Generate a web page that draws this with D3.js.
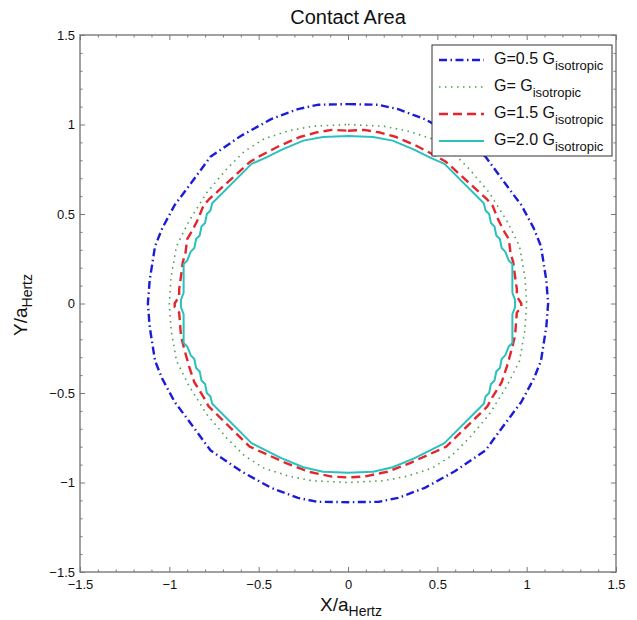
<!DOCTYPE html>
<html lang="en">
<head>
<meta charset="UTF-8">
<title>Contact Area</title>
<script src="https://d3js.org/d3.v7.min.js"></script>
<style>
  body { margin: 0; background: #fff; }
  text { font-family: "Liberation Sans", Arial, Helvetica, sans-serif; fill: #111; }
</style>
</head>
<body>
<svg id="chart" width="637" height="620"></svg>
<script>

const majorTicks = [-1.5, -1, -0.5, 0, 0.5, 1, 1.5];
const minorTicks = [-1.4, -1.3, -1.2, -1.1, -0.9, -0.8, -0.7, -0.6, -0.4, -0.3, -0.2, -0.1,
                    0.1, 0.2, 0.3, 0.4, 0.6, 0.7, 0.8, 0.9, 1.1, 1.2, 1.3, 1.4];

const seriesNames = ["G=0.5 G", "G= G", "G=1.5 G", "G=2.0 G"];
const seriesSub = "isotropic";

// contour points (X/aHertz, Y/aHertz), clockwise from the top
const contourG05 = [
    [0, 1.114], [0.17, 1.11], [0.28, 1.086], [0.43, 1.03], [0.60, 0.936], [0.77, 0.82], [0.88, 0.67],
    [0.97, 0.55], [1.04, 0.42], [1.08, 0.32], [1.11, 0.13], [1.12, 0],
    [1.11, -0.13], [1.08, -0.32], [1.04, -0.42], [0.97, -0.55], [0.88, -0.67], [0.77, -0.82],
    [0.60, -0.936], [0.43, -1.03], [0.28, -1.086], [0.17, -1.108], [0, -1.11],
    [-0.17, -1.108], [-0.28, -1.086], [-0.43, -1.03], [-0.60, -0.936], [-0.77, -0.82], [-0.88, -0.67],
    [-0.97, -0.55], [-1.04, -0.42], [-1.08, -0.32], [-1.11, -0.13], [-1.12, 0],
    [-1.11, 0.13], [-1.08, 0.32], [-1.04, 0.42], [-0.97, 0.55], [-0.88, 0.67], [-0.77, 0.82],
    [-0.60, 0.936], [-0.43, 1.03], [-0.28, 1.086], [-0.17, 1.11]
];

const contourG10 = [
    [0, 1.0], [0.2, 0.99], [0.33, 0.965], [0.47, 0.92], [0.58, 0.85], [0.68, 0.75], [0.79, 0.62],
    [0.89, 0.46], [0.96, 0.32], [0.99, 0.15], [1.0, 0],
    [0.99, -0.15], [0.96, -0.32], [0.89, -0.46], [0.79, -0.62], [0.68, -0.75], [0.58, -0.85],
    [0.47, -0.92], [0.33, -0.965], [0.2, -0.99], [0, -1.0],
    [-0.2, -0.99], [-0.33, -0.965], [-0.47, -0.92], [-0.58, -0.85], [-0.68, -0.75], [-0.79, -0.62],
    [-0.89, -0.46], [-0.96, -0.32], [-0.99, -0.15], [-1.0, 0],
    [-0.99, 0.15], [-0.96, 0.32], [-0.89, 0.46], [-0.79, 0.62], [-0.68, 0.75], [-0.58, 0.85],
    [-0.47, 0.92], [-0.33, 0.965], [-0.2, 0.99]
];

const contourG15 = [
    [0, 0.965], [0.09, 0.97], [0.18, 0.955], [0.27, 0.93], [0.385, 0.88], [0.50, 0.82], [0.55, 0.79],
    [0.78, 0.58], [0.81, 0.545], [0.84, 0.47], [0.87, 0.41], [0.90, 0.36], [0.91, 0.28], [0.925, 0.23],
    [0.935, 0.15], [0.945, 0.08], [0.945, 0.04], [0.97, 0],
    [0.97, -0.02], [0.945, -0.05], [0.935, -0.18], [0.915, -0.26], [0.89, -0.35], [0.86, -0.44],
    [0.81, -0.52], [0.78, -0.575], [0.55, -0.80], [0.35, -0.89], [0.22, -0.94], [0.09, -0.967], [0, -0.972],
    [-0.09, -0.967], [-0.22, -0.94], [-0.35, -0.89], [-0.55, -0.80], [-0.78, -0.575], [-0.81, -0.52],
    [-0.86, -0.44], [-0.89, -0.35], [-0.915, -0.26], [-0.935, -0.18], [-0.945, -0.05], [-0.97, -0.02],
    [-0.97, 0], [-0.945, 0.04], [-0.945, 0.08], [-0.935, 0.15], [-0.925, 0.23], [-0.91, 0.28],
    [-0.90, 0.36], [-0.87, 0.41], [-0.84, 0.47], [-0.81, 0.545], [-0.78, 0.58], [-0.55, 0.79],
    [-0.50, 0.82], [-0.385, 0.88], [-0.27, 0.93], [-0.18, 0.955], [-0.09, 0.97]
];

const contourG20 = [
    [0, 0.936], [0.14, 0.93], [0.25, 0.91], [0.37, 0.86], [0.46, 0.815], [0.54, 0.78], [0.76, 0.56],
    [0.77, 0.52], [0.79, 0.50], [0.80, 0.45], [0.82, 0.43], [0.83, 0.38], [0.85, 0.36], [0.86, 0.31],
    [0.88, 0.29], [0.90, 0.24], [0.92, 0.22], [0.92, 0.06], [0.935, 0.02],
    [0.935, -0.02], [0.92, -0.06], [0.92, -0.22], [0.90, -0.24], [0.88, -0.29], [0.86, -0.31],
    [0.85, -0.36], [0.83, -0.38], [0.82, -0.43], [0.80, -0.45], [0.79, -0.50], [0.77, -0.52],
    [0.76, -0.56], [0.54, -0.78], [0.46, -0.82], [0.37, -0.865], [0.25, -0.915], [0.14, -0.94], [0, -0.945],
    [-0.14, -0.94], [-0.25, -0.915], [-0.37, -0.865], [-0.46, -0.82], [-0.54, -0.78], [-0.76, -0.56],
    [-0.77, -0.52], [-0.79, -0.50], [-0.80, -0.45], [-0.82, -0.43], [-0.83, -0.38], [-0.85, -0.36],
    [-0.86, -0.31], [-0.88, -0.29], [-0.90, -0.24], [-0.92, -0.22], [-0.92, -0.06], [-0.935, -0.02],
    [-0.935, 0.02], [-0.92, 0.06], [-0.92, 0.22], [-0.90, 0.24], [-0.88, 0.29], [-0.86, 0.31],
    [-0.85, 0.36], [-0.83, 0.38], [-0.82, 0.43], [-0.80, 0.45], [-0.79, 0.50], [-0.77, 0.52],
    [-0.76, 0.56], [-0.54, 0.78], [-0.46, 0.815], [-0.37, 0.86], [-0.25, 0.91], [-0.14, 0.93]
];

const contours = [contourG05, contourG10, contourG15, contourG20];

const styles = [
    {color: "#1c1cd8", width: 2.4, dash: "8,3.5,1.5,3.5"},
    {color: "#4c9e4c", width: 1.6, dash: "1.5,4.5"},
    {color: "#e3262b", width: 2.4, dash: "9,5"},
    {color: "#2cc0bd", width: 2,   dash: null}
];

window.onload = function () {
    const svg = d3.select("#chart");
    const left = 80, right = 616, top = 35, bottom = 572;

    const x = d3.scaleLinear().domain([-1.5, 1.5]).range([left, right]);
    const y = d3.scaleLinear().domain([-1.5, 1.5]).range([bottom, top]);
    const fmt = d3.format("");

    // contours
    const line = d3.line()
        .x(d => x(d[0]))
        .y(d => y(d[1]))
        .curve(d3.curveLinearClosed);

    svg.append("g").selectAll("path")
        .data(contours)
        .enter()
        .append("path")
        .attr("d", line)
        .attr("fill", "none")
        .attr("stroke", (d, i) => styles[i].color)
        .attr("stroke-width", (d, i) => styles[i].width)
        .attr("stroke-dasharray", (d, i) => styles[i].dash)
        .attr("stroke-linejoin", "round");

    // axes: ticks on all four sides, pointing inward
    const axisColor = "#7a7a7a";
    const axes = [
        {gen: d3.axisBottom(x), t: `translate(0,${bottom})`, labels: true, pad: 8},
        {gen: d3.axisTop(x),    t: `translate(0,${top})`,    labels: false},
        {gen: d3.axisLeft(y),   t: `translate(${left},0)`,   labels: true, pad: 5},
        {gen: d3.axisRight(y),  t: `translate(${right},0)`,  labels: false}
    ];
    axes.forEach(a => {
        const major = svg.append("g")
            .attr("transform", a.t)
            .call(a.gen.tickValues(majorTicks).tickSizeInner(-5).tickSizeOuter(0)
                .tickPadding(a.pad || 3)
                .tickFormat(a.labels ? fmt : ""));
        major.select(".domain").remove();
        major.selectAll("line").attr("stroke", axisColor);
        major.selectAll("text").attr("font-size", 13).attr("fill", "#1a1a1a")
            .attr("font-family", "Liberation Sans, Arial, sans-serif");

        const minor = svg.append("g")
            .attr("transform", a.t)
            .call(a.gen.tickValues(minorTicks).tickSizeInner(-2.5).tickSizeOuter(0).tickFormat(""));
        minor.select(".domain").remove();
        minor.selectAll("line").attr("stroke", axisColor);
    });

    svg.append("rect")
        .attr("x", left).attr("y", top)
        .attr("width", right - left).attr("height", bottom - top)
        .attr("fill", "none")
        .attr("stroke", axisColor)
        .attr("stroke-width", 1.4);

    // title
    svg.append("text")
        .attr("x", (left + right) / 2)
        .attr("y", 24)
        .attr("text-anchor", "middle")
        .attr("font-size", 20)
        .text("Contact Area");

    // x label
    const xl = svg.append("text")
        .attr("x", 351)
        .attr("y", 611)
        .attr("text-anchor", "middle")
        .attr("font-size", 19);
    xl.append("tspan").text("X/a");
    xl.append("tspan").attr("dy", 5).attr("font-size", 14).text("Hertz");

    // y label
    const yl = svg.append("text")
        .attr("transform", "translate(27,305) rotate(-90)")
        .attr("text-anchor", "middle")
        .attr("font-size", 19);
    yl.append("tspan").text("Y/a");
    yl.append("tspan").attr("dy", 5).attr("font-size", 14).text("Hertz");

    // legend
    const lg = svg.append("g");
    lg.append("rect")
        .attr("x", 432).attr("y", 45)
        .attr("width", 180).attr("height", 111)
        .attr("fill", "#fff")
        .attr("stroke", "#333")
        .attr("stroke-width", 1);

    const items = lg.selectAll("g.item")
        .data(seriesNames)
        .enter()
        .append("g")
        .attr("class", "item")
        .attr("transform", (d, i) => `translate(0,${60 + i * 27})`);

    items.append("line")
        .attr("x1", 439).attr("x2", 484)
        .attr("y1", 0).attr("y2", 0)
        .attr("stroke", (d, i) => styles[i].color)
        .attr("stroke-width", (d, i) => styles[i].width)
        .attr("stroke-dasharray", (d, i) => styles[i].dash);

    const lt = items.append("text")
        .attr("x", 494)
        .attr("y", 3.5)
        .attr("font-size", 16);
    lt.append("tspan").text(d => d);
    lt.append("tspan").attr("dy", 6).attr("font-size", 13).text(seriesSub);
};

</script>
</body>
</html>
